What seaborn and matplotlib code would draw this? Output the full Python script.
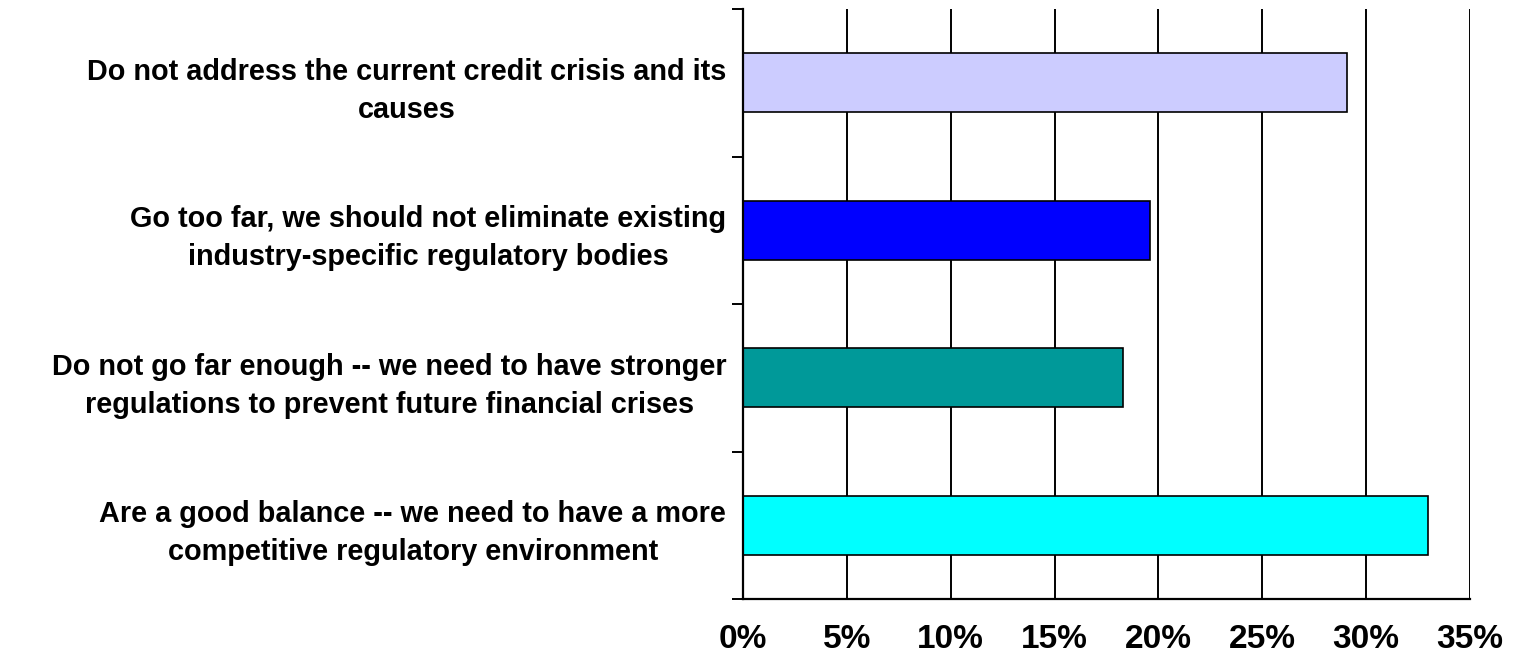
import matplotlib
matplotlib.use("Agg")
import matplotlib.pyplot as plt
from matplotlib.ticker import FixedLocator, MultipleLocator
import pandas as pd
import seaborn as sns

# Survey responses (share of respondents)
responses = [
    "Do not address the current credit crisis and its\ncauses",
    "Go too far, we should not eliminate existing\nindustry-specific regulatory bodies",
    "Do not go far enough -- we need to have stronger\nregulations to prevent future financial crises",
    "Are a good balance -- we need to have a more\ncompetitive regulatory environment",
]
shares = [29.1, 19.6, 18.3, 33.0]
bar_colors = ["#CCCCFF", "#0000FF", "#009999", "#00FFFF"]
x_ticks = [0, 5, 10, 15, 20, 25, 30, 35]
x_tick_labels = ["0%", "5%", "10%", "15%", "20%", "25%", "30%", "35%"]

df = pd.DataFrame({"response": responses, "share": shares})

sns.set_style("white")
plt.rcParams["font.family"] = ["Liberation Sans", "DejaVu Sans"]
plt.rcParams["text.color"] = "black"
plt.rcParams["xtick.color"] = "black"
plt.rcParams["ytick.color"] = "black"

fig = plt.figure(figsize=(15.14, 6.64), dpi=100)
ax = fig.add_axes([743 / 1514, 1 - 599 / 664, (1470 - 743) / 1514, (599 - 9) / 664])

sns.barplot(
    data=df, x="share", y="response", hue="response",
    palette=bar_colors, orient="h", width=0.4, legend=False,
    edgecolor="black", linewidth=1.2, saturation=1, ax=ax,
)

ax.set_xlim(0, 35)
ax.set_ylim(3.5, -0.5)
ax.set_xlabel("")
ax.set_ylabel("")

# Vertical gridlines at every 5%
ax.xaxis.set_major_locator(FixedLocator(x_ticks))
ax.set_xticklabels(x_tick_labels, fontsize=24, fontweight="bold", color="black")
ax.grid(axis="x", color="black", linewidth=1.4)
ax.set_axisbelow(True)

# Spines: only the left and bottom axis lines
for side in ["top", "right"]:
    ax.spines[side].set_visible(False)
for side in ["left", "bottom"]:
    ax.spines[side].set_color("black")
    ax.spines[side].set_linewidth(1.6)

ax.tick_params(axis="x", which="major", direction="out", length=8, width=1.4,
               color="black", pad=10)

# Category separators as minor ticks on the y axis
ax.yaxis.set_minor_locator(MultipleLocator(1, offset=0.5))
ax.tick_params(axis="y", which="minor", direction="out", length=8, width=1.4,
               color="black", left=True)
ax.tick_params(axis="y", which="major", length=0, pad=12)
for lbl in ax.get_yticklabels():
    lbl.set_fontsize(20.8)
    lbl.set_fontweight("bold")
    lbl.set_color("black")
    lbl.set_multialignment("center")
    lbl.set_linespacing(1.45)

fig.savefig("out.png", dpi=100)
